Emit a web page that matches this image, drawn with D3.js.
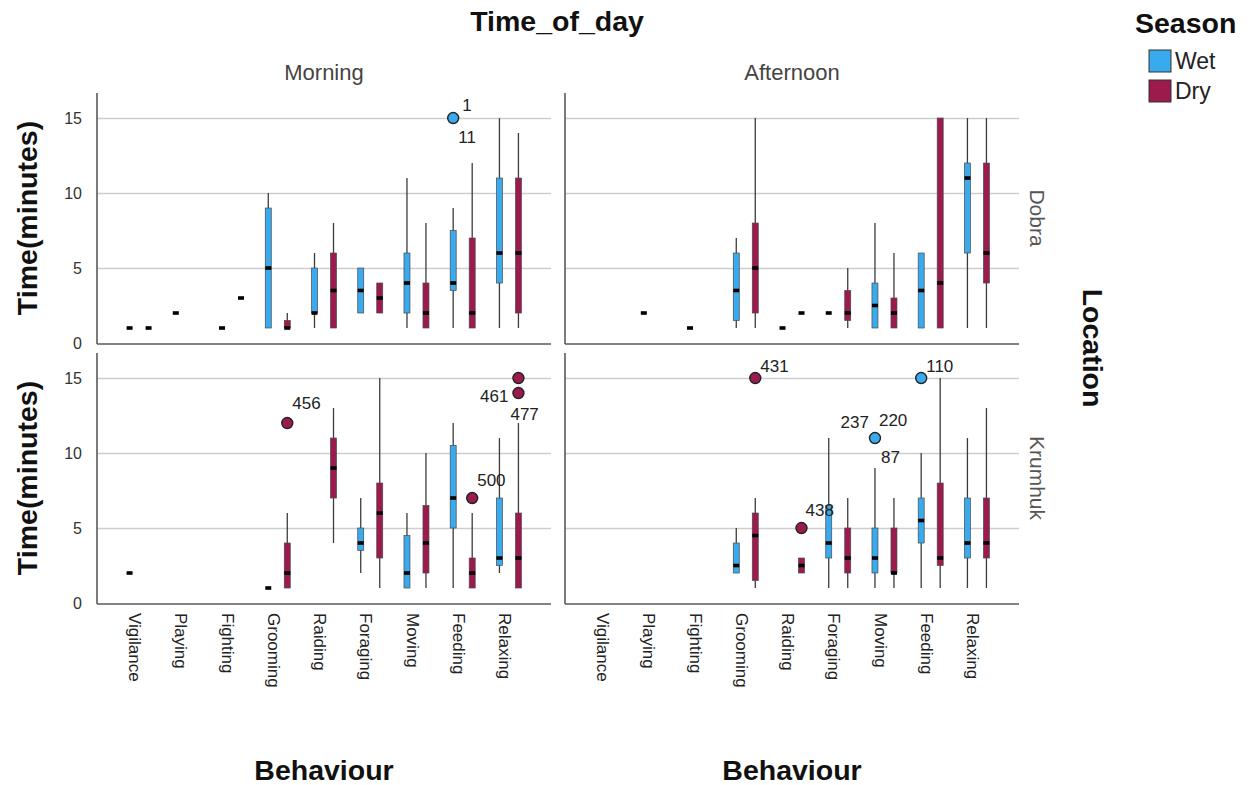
<!DOCTYPE html>
<html lang="en">
<head>
<meta charset="UTF-8">
<title>Time by behaviour</title>
<script src="https://d3js.org/d3.v7.min.js"></script>
<style>
    body {margin: 0; background: #fff}
    text {font-family: 'Liberation Sans', Arial, sans-serif}
    .domain {display: none}
    .grid line {stroke: #cdcdcd; stroke-width: 1.5}
    .grid text {font-size: 16px; fill: #333}
    .xaxis text {font-size: 17px; fill: #222}
</style>
</head>
<body>
<script>
const behaviours = ["Vigilance", "Playing", "Fighting", "Grooming", "Raiding",
                    "Foraging", "Moving", "Feeding", "Relaxing"];
const seasons = ["Wet", "Dry"];
const timesOfDay = ["Morning", "Afternoon"];
const locations = ["Dobra", "Krumhuk"];
const yTicks = [0, 5, 10, 15];

// [behaviour, season, min, q1, median, q3, max]
const morningDobra = [
    ["Vigilance", "Wet", 1, 1, 1, 1, 1],
    ["Vigilance", "Dry", 1, 1, 1, 1, 1],
    ["Playing", "Wet", 2, 2, 2, 2, 2],
    ["Fighting", "Wet", 1, 1, 1, 1, 1],
    ["Fighting", "Dry", 3, 3, 3, 3, 3],
    ["Grooming", "Wet", 1, 1, 5, 9, 10],
    ["Grooming", "Dry", 1, 1, 1, 1.5, 2],
    ["Raiding", "Wet", 1, 2, 2, 5, 6],
    ["Raiding", "Dry", 1, 1, 3.5, 6, 8],
    ["Foraging", "Wet", 2, 2, 3.5, 5, 5],
    ["Foraging", "Dry", 2, 2, 3, 4, 4],
    ["Moving", "Wet", 1, 2, 4, 6, 11],
    ["Moving", "Dry", 1, 1, 2, 4, 8],
    ["Feeding", "Wet", 1, 3.5, 4, 7.5, 9],
    ["Feeding", "Dry", 1, 1, 2, 7, 12],
    ["Relaxing", "Wet", 1, 4, 6, 11, 15],
    ["Relaxing", "Dry", 1, 2, 6, 11, 14]
];
const afternoonDobra = [
    ["Playing", "Wet", 2, 2, 2, 2, 2],
    ["Fighting", "Wet", 1, 1, 1, 1, 1],
    ["Grooming", "Wet", 1, 1.5, 3.5, 6, 7],
    ["Grooming", "Dry", 1, 2, 5, 8, 15],
    ["Raiding", "Wet", 1, 1, 1, 1, 1],
    ["Raiding", "Dry", 2, 2, 2, 2, 2],
    ["Foraging", "Wet", 2, 2, 2, 2, 2],
    ["Foraging", "Dry", 1, 1.5, 2, 3.5, 5],
    ["Moving", "Wet", 1, 1, 2.5, 4, 8],
    ["Moving", "Dry", 1, 1, 2, 3, 6],
    ["Feeding", "Wet", 1, 1, 3.5, 6, 6],
    ["Feeding", "Dry", 1, 1, 4, 15, 15],
    ["Relaxing", "Wet", 1, 6, 11, 12, 15],
    ["Relaxing", "Dry", 1, 4, 6, 12, 15]
];
const morningKrumhuk = [
    ["Vigilance", "Wet", 2, 2, 2, 2, 2],
    ["Grooming", "Wet", 1, 1, 1, 1, 1],
    ["Grooming", "Dry", 1, 1, 2, 4, 6],
    ["Raiding", "Dry", 4, 7, 9, 11, 13],
    ["Foraging", "Wet", 2, 3.5, 4, 5, 7],
    ["Foraging", "Dry", 1, 3, 6, 8, 15],
    ["Moving", "Wet", 1, 1, 2, 4.5, 6],
    ["Moving", "Dry", 1, 2, 4, 6.5, 10],
    ["Feeding", "Wet", 1, 5, 7, 10.5, 12],
    ["Feeding", "Dry", 1, 1, 2, 3, 6],
    ["Relaxing", "Wet", 2, 2.5, 3, 7, 11],
    ["Relaxing", "Dry", 1, 1, 3, 6, 12]
];
const afternoonKrumhuk = [
    ["Grooming", "Wet", 2, 2, 2.5, 4, 5],
    ["Grooming", "Dry", 1, 1.5, 4.5, 6, 7],
    ["Raiding", "Dry", 2, 2, 2.5, 3, 3],
    ["Foraging", "Wet", 1, 3, 4, 6.5, 11],
    ["Foraging", "Dry", 1, 2, 3, 5, 7],
    ["Moving", "Wet", 1, 2, 3, 5, 9],
    ["Moving", "Dry", 1, 2, 2, 5, 7],
    ["Feeding", "Wet", 1, 4, 5.5, 7, 10],
    ["Feeding", "Dry", 1, 2.5, 3, 8, 15],
    ["Relaxing", "Wet", 1, 3, 4, 7, 11],
    ["Relaxing", "Dry", 1, 3, 4, 7, 13]
];

// [behaviour, season, value, case labels]
const outliersMorningDobra = [
    ["Feeding", "Wet", 15, ["1", "11"]]
];
const outliersAfternoonDobra = [];
const outliersMorningKrumhuk = [
    ["Grooming", "Dry", 12, ["456"]],
    ["Feeding", "Dry", 7, ["500"]],
    ["Relaxing", "Dry", 15, []],
    ["Relaxing", "Dry", 14, ["461", "477"]]
];
const outliersAfternoonKrumhuk = [
    ["Grooming", "Dry", 15, ["431"]],
    ["Raiding", "Dry", 5, ["438"]],
    ["Moving", "Wet", 11, ["237", "220", "87"]],
    ["Feeding", "Wet", 15, ["110"]]
];

const boxes = [[morningDobra, afternoonDobra], [morningKrumhuk, afternoonKrumhuk]];
const outliers = [[outliersMorningDobra, outliersAfternoonDobra],
                  [outliersMorningKrumhuk, outliersAfternoonKrumhuk]];

// where each case label sits next to its point: dx, dy, anchor
const labelPlace = {
    "1": [9, -13, "start"], "11": [5, 19, "start"],
    "456": [5, -20, "start"], "500": [5, -18, "start"],
    "461": [-10, 3, "end"], "477": [-8, 21, "start"],
    "431": [5, -12, "start"], "438": [4, -18, "start"],
    "237": [-6, -16, "end"], "220": [4, -18, "start"], "87": [6, 19, "start"],
    "110": [5, -12, "start"]
};

const width = 1255, height = 785;
const colLeft = [97, 565], colWidth = 454;
const rowTop = [93, 353], rowHeight = 250;
const boxW = 6;

const color = d3.scaleOrdinal(seasons, ["#3aaaee", "#9c1b4f"]);

const svg = d3.select("body").append("svg")
    .attr("width", width)
    .attr("height", height);

const xSeason = d3.scaleBand(seasons, [-19, 19]);

for (let r = 0; r < 2; r++) {
    for (let c = 0; c < 2; c++) {
        const x = d3.scaleBand(behaviours, [colLeft[c], colLeft[c] + colWidth])
            .paddingOuter(0.41);
        const y = d3.scaleLinear([0, 16.67], [rowTop[r] + rowHeight, rowTop[r]]);
        const cx = d => x(d[0]) + x.bandwidth() / 2 + xSeason(d[1]) + xSeason.bandwidth() / 2;

        const g = svg.append("g");

        // gridlines + tick labels
        const grid = g.append("g").attr("class", "grid")
            .attr("transform", `translate(${colLeft[c]},0)`)
            .call(d3.axisLeft(y).tickValues(yTicks).tickSize(-colWidth).tickPadding(15));
        grid.selectAll(".tick").filter(d => d === 0).select("line").remove();
        if (c === 1) grid.selectAll("text").remove();

        // frame lines
        g.append("line")
            .attr("x1", colLeft[c]).attr("x2", colLeft[c])
            .attr("y1", y.range()[1]).attr("y2", y.range()[0] + 1)
            .attr("stroke", "#5a5a5a").attr("stroke-width", 1.6);
        g.append("line")
            .attr("x1", colLeft[c]).attr("x2", colLeft[c] + colWidth)
            .attr("y1", y(0) + 1).attr("y2", y(0) + 1)
            .attr("stroke", "#5a5a5a").attr("stroke-width", 1.6);

        const data = boxes[r][c];
        const b = g.selectAll("g.box").data(data).enter()
            .append("g").attr("class", "box");

        b.filter(d => d[6] > d[2]).append("line")
            .attr("x1", cx).attr("x2", cx)
            .attr("y1", d => y(d[6])).attr("y2", d => y(d[2]))
            .attr("stroke", "#3c3c3c").attr("stroke-width", 1.3);

        b.filter(d => d[5] > d[3]).append("rect")
            .attr("x", d => cx(d) - boxW / 2)
            .attr("width", boxW)
            .attr("y", d => y(d[5]))
            .attr("height", d => y(d[3]) - y(d[5]))
            .attr("fill", d => color(d[1]))
            .attr("stroke", "#4a4a4a").attr("stroke-width", 0.7);

        b.append("rect")
            .attr("x", d => cx(d) - boxW / 2)
            .attr("width", boxW)
            .attr("y", d => y(d[4]) - 1.8)
            .attr("height", 3.6)
            .attr("fill", "#000");

        // outliers
        const o = g.selectAll("g.out").data(outliers[r][c]).enter()
            .append("g").attr("class", "out");
        o.append("circle")
            .attr("cx", cx).attr("cy", d => y(d[2]))
            .attr("r", 5.5)
            .attr("fill", d => color(d[1]))
            .attr("stroke", "#222").attr("stroke-width", 1.4);
        o.each(function(d) {
            d3.select(this).selectAll("text").data(d[3]).enter()
                .append("text")
                .attr("x", t => cx(d) + labelPlace[t][0])
                .attr("y", t => y(d[2]) + labelPlace[t][1])
                .attr("dy", "0.35em")
                .attr("text-anchor", t => labelPlace[t][2])
                .style("font-size", "17px")
                .style("fill", "#222")
                .text(t => t);
        });

        // category labels on bottom row
        if (r === 1) {
            const xa = g.append("g").attr("class", "xaxis")
                .attr("transform", `translate(0,${y(0) + 1})`)
                .call(d3.axisBottom(x).tickSize(0));
            xa.selectAll("text")
                .attr("transform", "rotate(90)")
                .attr("x", 9).attr("y", 4)
                .attr("dy", "0.35em")
                .style("text-anchor", "start");
        }
    }
}

// facet strip labels
svg.selectAll("text.col").data(timesOfDay).enter()
    .append("text")
    .attr("x", (d, i) => colLeft[i] + colWidth / 2)
    .attr("y", 80)
    .attr("text-anchor", "middle")
    .style("font-size", "22px").style("fill", "#444")
    .text(d => d);

svg.selectAll("text.row").data(locations).enter()
    .append("text")
    .attr("transform", (d, i) => `translate(1037,${rowTop[i] + rowHeight / 2}) rotate(90)`)
    .attr("text-anchor", "middle")
    .attr("dy", "0.35em")
    .style("font-size", "21px").style("fill", "#555")
    .text(d => d);

// titles
const bold = sel => sel.style("font-size", "28.5px").style("font-weight", "bold").style("fill", "#111");

svg.append("text")
    .attr("x", 557).attr("y", 31)
    .attr("text-anchor", "middle")
    .call(bold)
    .text("Time_of_day");

svg.append("text")
    .attr("transform", `translate(1093,${(rowTop[0] + rowTop[1] + rowHeight) / 2}) rotate(90)`)
    .attr("text-anchor", "middle").attr("dy", "0.35em")
    .call(bold)
    .text("Location");

svg.selectAll("text.ytitle").data(rowTop).enter()
    .append("text")
    .attr("transform", d => `translate(27,${d + rowHeight / 2}) rotate(-90)`)
    .attr("text-anchor", "middle").attr("dy", "0.35em")
    .call(bold)
    .text("Time(minutes)");

svg.selectAll("text.xtitle").data(colLeft).enter()
    .append("text")
    .attr("x", d => d + colWidth / 2)
    .attr("y", 780)
    .attr("text-anchor", "middle")
    .call(bold)
    .text("Behaviour");

// legend
svg.append("text")
    .attr("x", 1135).attr("y", 33)
    .call(bold)
    .text("Season");

const lg = svg.selectAll("g.legend").data(seasons).enter()
    .append("g")
    .attr("transform", (d, i) => `translate(1149,${50 + i * 30})`);
lg.append("rect")
    .attr("width", 22).attr("height", 22)
    .attr("fill", d => color(d))
    .attr("stroke", "#333").attr("stroke-width", 1);
lg.append("text")
    .attr("x", 26).attr("y", 11).attr("dy", "0.35em")
    .style("font-size", "23px").style("fill", "#222")
    .text(d => d);
</script>
</body>
</html>
